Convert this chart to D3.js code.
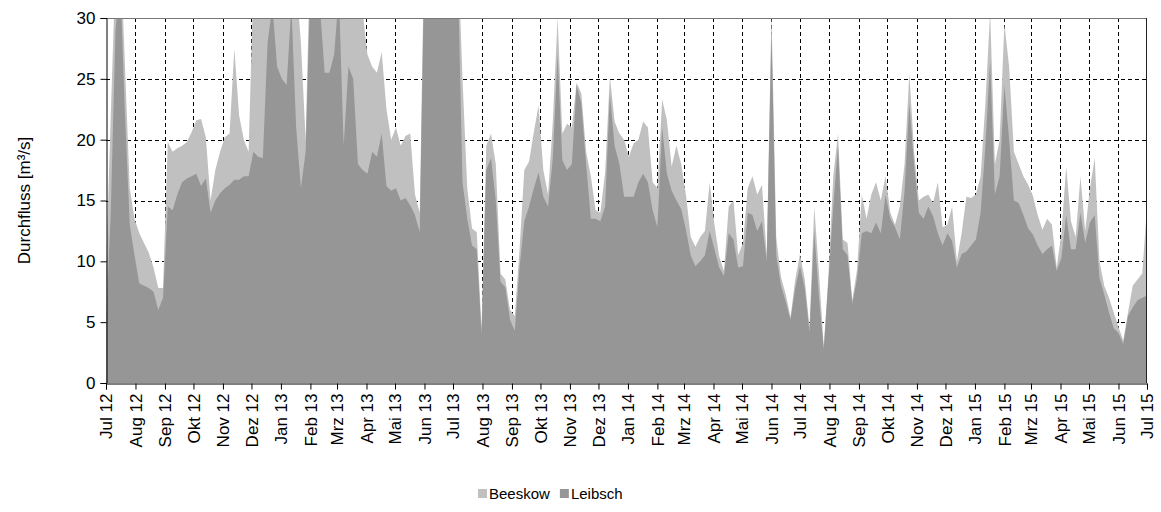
<!DOCTYPE html>
<html>
<head>
<meta charset="utf-8">
<script src="https://cdn.jsdelivr.net/npm/d3@7"></script>
<style>
  body { margin: 0; background: #fff; }
  text { font-family: "Liberation Sans", Arial, sans-serif; fill: #000; }
</style>
</head>
<body>
<svg id="chart" width="1161" height="512"></svg>
<script>
// Daily discharge (m³/s), sampled every 5 days from 1 July 2012
const seriesStart = [2012, 6, 1];
const stepDays = 5;

const beeskow = [
  9, 22, 34, 36, 26, 16, 13.5, 12.3, 11.5, 10.7,
  9.5, 7.8, 7.8, 19.8, 19, 19.3, 19.5, 19.8, 20.6, 21.6,
  21.7, 20.2, 15, 17.5, 19, 20.2, 20.5, 27.5, 22, 20,
  19, 33, 35, 34, 36, 38, 36, 34, 33, 35,
  33, 28, 20, 36, 37, 36, 35, 34, 35, 37,
  34, 33, 32, 31, 30.5, 27, 26, 25.5, 27.2, 22.5,
  20, 21, 19.5, 20.3, 20.5, 15.5, 14, 37, 40, 44,
  47, 45, 42, 39, 36, 25, 16, 12.7, 12.4, 4.5,
  19.5, 20.5, 18, 9, 8.5, 6, 5.5, 11, 17.5, 18.2,
  20.6, 22.8, 17.5, 15.5, 21.5, 30, 20.5, 21.3, 21, 24.7,
  23.8, 19, 17, 14.2, 14, 17.3, 25.2, 21.5, 20.5, 20,
  18.6, 19.7, 20, 21.5, 21, 16.5, 16, 23.3, 21.6, 17.8,
  19.5, 18, 15.5, 12, 11.2, 12, 12.5, 16.5, 13, 10.4,
  9.2, 14.5, 15, 10.5, 11.5, 16, 17, 15.5, 16.3, 10.5,
  30.5, 12, 8.7, 7.3, 5.4, 8.5, 10.6, 8.5, 4.6, 14.5,
  9, 3, 9, 17, 20.5, 11.8, 11.5, 6.8, 9.3, 15.5,
  13.5, 15.5, 16.5, 15, 17, 14, 13, 14.5, 18, 25.5,
  19, 15, 15.3, 15.5, 14.8, 16.5, 12.8, 13, 14.5, 10,
  12.3, 15.3, 15.2, 15.5, 17, 23, 30.5, 18, 20, 29.5,
  26, 19, 18, 17, 16.3, 15.4, 13.8, 12.6, 13.5, 13,
  9.5, 12.3, 17.8, 13.3, 12, 17, 12.5, 16, 18.5, 10,
  8, 7, 5.8, 4.6, 3.5, 5.8, 8, 8.5, 9, 14.5
];

const leibsch = [
  5, 14, 29, 33, 22, 13, 10.5, 8.2, 8, 7.8,
  7.5, 6, 7, 14.5, 14.2, 15.5, 16.5, 16.8, 17, 17.2,
  16.2, 16.8, 14, 15, 15.6, 16, 16.3, 16.7, 16.7, 17,
  17, 19, 18.6, 18.5, 28, 31, 26, 25, 24.5, 31,
  21, 16, 19, 33, 34, 31, 25.5, 25.5, 27, 32,
  19.5, 26, 25, 18, 17.5, 17.2, 19, 18.6, 20.5, 16.2,
  15.8, 16, 15, 15.2, 14.6, 13.8, 12.4, 35, 38, 42,
  45, 44, 40, 37, 34, 16.5, 13.5, 11.3, 11, 4,
  17.5, 18.5, 15, 8.3, 7.9, 5.2, 4.3, 9.5, 13.3, 14.5,
  16, 17.3, 15.3, 14.5, 18.5, 27, 18.3, 17.5, 18, 24.5,
  23, 18, 13.5, 13.5, 13.3, 14.5, 23.8, 19.5, 18, 15.3,
  15.3, 15.3, 16.5, 17.2, 16.5, 14.2, 12.8, 21, 17.2, 15.8,
  15, 14.3, 12.6, 10.5, 9.6, 10, 10.5, 12.5, 11, 9.5,
  8.8, 12.3, 11.8, 9.5, 9.6, 14, 13.8, 12.5, 13.3, 10,
  29, 10.5, 8, 6.7, 5.2, 7.8, 9.6, 7.8, 4.2, 12.5,
  7, 2.8, 8.5, 14.5, 19.5, 11, 10.5, 6.5, 8.6, 12.3,
  12.5, 12.3, 13.2, 12.3, 15.5, 13.5, 12.8, 11.8, 15.8, 23,
  18, 14, 13.5, 14.5, 13.7, 12.3, 11.3, 12.3, 11.7, 9.5,
  10.6, 10.8, 11.3, 11.8, 14, 19.5, 26.5, 15.5, 17, 24.5,
  20, 15, 14.8, 13.8, 12.7, 12.2, 11.3, 10.6, 11, 11.3,
  9.2, 10.3, 13.8, 11, 11, 14, 11.5, 13.2, 13.8, 8.6,
  7.3, 5.8, 4.5, 4.1, 3.2, 5.5, 6.2, 6.8, 7, 7.2
];

const monthNames = ["Jan", "Feb", "Mrz", "Apr", "Mai", "Jun", "Jul", "Aug", "Sep", "Okt", "Nov", "Dez"];
const yTicks = [0, 5, 10, 15, 20, 25, 30];
const seriesNames = ["Beeskow", "Leibsch"];
const seriesColors = ["#c0c0c0", "#969696"];
const yTitle = "Durchfluss [m³/s]";

// ---- layout ----
const plot = { left: 106, right: 1147, top: 18, bottom: 383 };
const fontSize = 17;
const legendFontSize = 15;

const svg = d3.select("#chart");

const t0 = new Date(seriesStart[0], seriesStart[1], seriesStart[2]);
const t1 = new Date(2015, 6, 1);
const dates = beeskow.map((_, i) => d3.timeDay.offset(t0, i * stepDays));

const x = d3.scaleTime().domain([t0, t1]).range([plot.left, plot.right]);
const y = d3.scaleLinear().domain([0, 30]).range([plot.bottom, plot.top]);

const months = d3.timeMonth.range(t0, d3.timeDay.offset(t1, 1));

// grid (behind the areas)
const grid = svg.append("g").attr("stroke", "#000").attr("stroke-width", 1).attr("stroke-dasharray", "4,3");
grid.selectAll("line.h").data(yTicks.filter(v => v > 0 && v < 30)).join("line")
  .attr("x1", plot.left).attr("x2", plot.right)
  .attr("y1", d => Math.round(y(d)) + 0.5).attr("y2", d => Math.round(y(d)) + 0.5);
grid.selectAll("line.v").data(months.slice(1, -1)).join("line")
  .attr("x1", d => Math.round(x(d)) + 0.5).attr("x2", d => Math.round(x(d)) + 0.5)
  .attr("y1", plot.top).attr("y2", plot.bottom);

// clip to plot area (values above 30 run off the top)
svg.append("clipPath").attr("id", "plotClip").append("rect")
  .attr("x", plot.left).attr("y", plot.top)
  .attr("width", plot.right - plot.left).attr("height", plot.bottom - plot.top);

const area = d3.area().x((d, i) => x(dates[i])).y0(y(0)).y1(d => y(d));

const areas = svg.append("g").attr("clip-path", "url(#plotClip)");
[beeskow, leibsch].forEach((s, k) => {
  areas.append("path").datum(s).attr("d", area).attr("fill", seriesColors[k]);
});

// plot border
svg.append("line")
  .attr("x1", plot.left).attr("x2", plot.right).attr("y1", plot.top + 0.5).attr("y2", plot.top + 0.5)
  .attr("stroke", "#777");
svg.append("line")
  .attr("x1", plot.right - 0.5).attr("x2", plot.right - 0.5).attr("y1", plot.top).attr("y2", plot.bottom)
  .attr("stroke", "#222");

// y axis
const yAxis = svg.append("g").attr("transform", `translate(${plot.left + 0.5},0)`)
  .call(d3.axisLeft(y).tickValues(yTicks).tickSize(6).tickPadding(5).tickFormat(d3.format("d")));
yAxis.select(".domain").attr("stroke", "#000");
yAxis.selectAll(".tick line").attr("stroke", "#000");
yAxis.selectAll("text").style("font-size", fontSize + "px").attr("fill", "#000");

// x axis
const xAxis = svg.append("g").attr("transform", `translate(0,${plot.bottom + 0.5})`)
  .call(d3.axisBottom(x).tickValues(months).tickSize(6)
    .tickFormat(d => monthNames[d.getMonth()] + " " + String(d.getFullYear()).slice(2)));
xAxis.select(".domain").attr("stroke", "#000");
xAxis.selectAll(".tick line").attr("stroke", "#000");
xAxis.selectAll("text")
  .style("font-size", fontSize + "px").attr("fill", "#000")
  .attr("transform", "rotate(-90)")
  .attr("x", -10).attr("y", 0).attr("dy", "0.35em")
  .style("text-anchor", "end");

// y title
svg.append("text")
  .attr("transform", `translate(24,${(plot.top + plot.bottom) / 2}) rotate(-90)`)
  .attr("text-anchor", "middle").attr("dy", "0.35em")
  .style("font-size", fontSize + "px")
  .text(yTitle);

// legend
const legend = svg.append("g").attr("transform", "translate(0,494)");
let lx = 478;
seriesNames.forEach((name, k) => {
  legend.append("rect").attr("x", lx).attr("y", -5).attr("width", 9).attr("height", 9).attr("fill", seriesColors[k]);
  const t = legend.append("text").attr("x", lx + 11).attr("y", 0).attr("dy", "0.35em")
    .style("font-size", legendFontSize + "px").text(name);
  lx += 11 + t.node().getComputedTextLength() + 10;
});
</script>
</body>
</html>
